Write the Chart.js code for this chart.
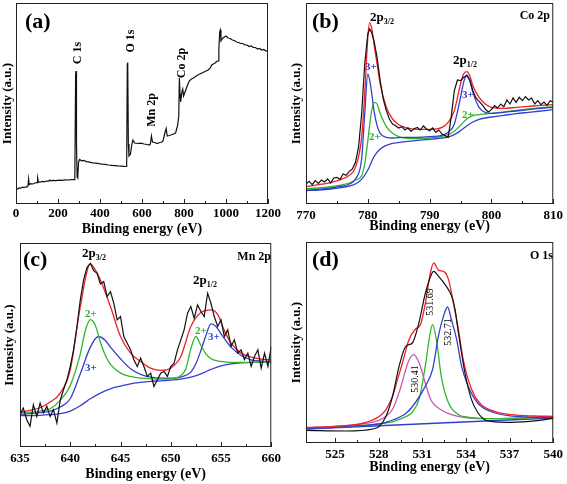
<!DOCTYPE html>
<html>
<head>
<meta charset="utf-8">
<script src="https://cdn.jsdelivr.net/npm/chart.js@4.4.0/dist/chart.umd.min.js"></script>
<style>
  body { margin: 0; background: #fff; width: 567px; height: 484px; position: relative; overflow: hidden; }
  canvas { position: absolute; }
</style>
</head>
<body>
<canvas id="cA" width="285" height="240" style="left:0;top:0"></canvas>
<canvas id="cB" width="282" height="240" style="left:285px;top:0"></canvas>
<canvas id="cC" width="285" height="244" style="left:0;top:240px"></canvas>
<canvas id="cD" width="282" height="244" style="left:285px;top:240px"></canvas>
<script>
const SERIF = '"Liberation Serif", "Times New Roman", serif';
const RED = '#f0202a', BLUE = '#3340cf', GREEN = '#2fb52f', PINK = '#c657b5', BLACK = '#111';

// ══════════════════════════════════════════════════════════════════
//  DATA — (a) survey
// ══════════════════════════════════════════════════════════════════
const surveyE = [0,8,15,22,30,38,45,52,57,60,63,70,80,90,100,103,107,115,125,135,145,155,160,165,175,190,205,220,235,250,265,280,284,286,288,291,294,298,303,312,322,335,350,365,380,395,410,425,440,455,470,485,500,515,527,530,532,535,538,545,552,557,565,580,595,610,625,635,640,645,650,660,672,685,695,700,710,715,720,730,745,760,770,775,778,781,784,790,794,798,805,815,825,835,845,855,870,885,900,915,925,932,940,948,955,962,966,970,973,976,985,1000,1010,1020,1030,1040,1050,1060,1070,1080,1090,1100,1110,1120,1130,1140,1150,1160,1170,1180,1190,1200];
const surveyI = [15.5,15,16.2,15.8,16.8,16.3,17.2,17,18,25,19.5,20.3,20,21,21.3,26,22,21.8,22.6,22.2,23,22.8,24,23.2,23.6,23.4,23.9,23.7,24.2,24,24.4,24.3,130,133,60,27,26,42,44.5,43.2,43.6,42.4,41.8,41.2,40.8,40.3,39.9,39.6,39,38.7,38.4,38.1,37.9,37.6,37.5,140,141.5,60,48,50,60,64,61,60.5,60.8,60,59.5,59,60,68,62,61.5,60.5,61.5,62,63,72,75.5,68,68.5,69.5,71,79,88,126,110,102,112,115,108,112,118,123,125,126,127.5,129.5,131,132.5,134,136,139,140,141,142.5,143,155,172,174,163,166,168,166,165.5,164,163.5,162,161.5,160.5,160.5,159,159,157.5,158,156.5,156.5,155,155.5,154,154.5,153,153.5];
const surveyTicks = [0,200,400,600,800,1000,1200];
const surveyMinor = [100,300,500,700,900,1100];

// ══════════════════════════════════════════════════════════════════
//  DATA — (b) Co 2p
// ══════════════════════════════════════════════════════════════════
const coRawE = [770,770.5,771,771.5,772,772.5,773,773.5,774,774.5,775,775.5,776,776.5,777,777.5,778,778.5,779,779.5,780,780.3,780.6,781,781.5,782,782.5,783,783.5,784,784.5,785,785.5,786,786.5,787,787.5,788,788.5,789,789.5,790,790.5,791,791.5,792,792.5,793,793.5,794,794.5,795,795.5,796,796.5,797,797.5,798,798.5,799,799.5,800,800.5,801,801.5,802,802.5,803,803.5,804,804.5,805,805.5,806,806.5,807,807.5,808,808.5,809,809.5,810];
const coRawI = [60,68,58,70,62,72,66,75,63,78,80,74,90,86,98,105,125,170,270,420,510,525,515,490,440,370,315,280,255,240,235,228,232,222,228,218,226,230,222,234,225,220,228,215,222,210,205,200,262,340,372,370,380,385,372,340,318,308,298,285,276,283,295,288,300,292,312,300,318,305,320,310,322,312,318,300,310,298,306,296,310,305];
const coFitE = [770,772,774,776,777,778,779,779.5,780,780.3,780.7,781,781.5,782,783,784,785,786,788,790,792,793,794,795,795.5,796,796.5,797,798,799,800,802,804,806,808,810];
const coFitI = [52,58,64,76,86,110,200,330,500,544,520,480,420,360,290,255,238,230,224,224,230,245,280,360,390,397,385,355,320,300,290,287,290,293,296,298];
const co3E = [770,772,774,776,777,778,779,779.5,780,780.5,781,781.5,782,783,784,786,788,790,792,793,794,795,795.5,796,796.5,797,798,799,800,802,804,806,808,810];
const co3I = [42,44,48,54,60,75,135,270,390,350,280,235,212,200,198,200,200,202,206,215,240,320,365,387,370,335,290,275,272,275,279,283,287,290];
const co2E = [770,772,774,776,777,778,779,779.5,780,780.5,781,781.5,782,783,784,785,786,788,790,792,793,794,795,796,797,798,799,800,802,804,806,808,810];
const co2I = [46,48,52,58,63,72,85,120,190,265,305,300,272,232,212,202,198,196,198,203,208,218,236,255,265,268,270,272,276,281,285,289,292];
const coBgE = [770,772,774,776,777,778,779,780,781,782,783,784,786,788,790,792,793,794,795,796,797,798,799,800,802,804,806,808,810];
const coBgI = [40,42,45,50,54,60,74,102,142,165,176,182,187,191,194,198,201,208,220,234,246,254,258,261,266,271,275,279,283];
const coTicks = [770,780,790,800,810];
const coMinor = [775,785,795,805];

// ══════════════════════════════════════════════════════════════════
//  DATA — (c) Mn 2p
// ══════════════════════════════════════════════════════════════════
const mnRawE = [635,635.33,635.67,636,636.33,636.67,637,637.33,637.67,638,638.33,638.67,639,639.33,639.67,640,640.33,640.67,641,641.33,641.67,642,642.33,642.67,643,643.33,643.67,644,644.33,644.67,645,645.33,645.67,646,646.33,646.67,647,647.33,647.67,648,648.33,648.67,649,649.33,649.67,650,650.33,650.67,651,651.33,651.67,652,652.33,652.67,653,653.33,653.67,654,654.33,654.67,655,655.33,655.67,656,656.33,656.67,657,657.33,657.67,658,658.33,658.67,659,659.33,659.67,660];
const mnRawI = [97,117,82,62,127,92,132,102,122,92,112,72,140,172,202,242,292,362,442,502,540,552,530,522,490,497,452,467,432,382,392,332,312,292,262,242,267,242,212,222,182,202,222,227,212,242,252,292,322,352,402,422,387,427,407,392,462,432,392,362,382,332,352,302,322,282,292,262,282,242,272,292,237,282,242,302];
const mnFitE = [635,636,637,638,639,640,641,642,642.5,643,644,645,646,647,648,649,650,651,652,653,654,654.7,655.3,656,657,658,659,660];
const mnFitI = [104,110,118,135,162,232,422,550,532,502,422,332,282,257,237,230,237,272,362,404,412,397,352,312,282,270,264,262];
const mn2E = [635,636,637,638,639,640,641,641.5,642,642.5,643,643.5,644,645,646,647,648,649,650,651,651.5,652,652.5,653,653.5,654,655,656,657,658,659,660];
const mn2I = [102,104,108,115,140,185,280,350,383,365,315,275,248,222,212,207,205,204,205,215,235,295,332,305,280,265,257,254,254,254,255,256];
const mn3E = [635,636,637,638,639,640,641,642,642.8,643.5,644,645,646,647,648,649,650,651,652,652.5,653,653.5,654,654.5,655,656,657,658,659,660];
const mn3I = [98,100,103,108,120,145,220,300,332,320,300,265,235,218,210,207,207,210,225,250,290,335,370,362,340,300,275,262,258,257];
const mnBgE = [635,636,637,638,639,640,641,642,643,644,645,646,647,648,649,650,651,652,653,654,655,656,657,658,659,660];
const mnBgI = [94,94,95,97,100,108,124,145,162,175,183,190,194,197,199,201,204,210,220,233,244,250,253,254,255,256];
const mnTicks = [635,640,645,650,655,660];
const mnMinor = [637.5,642.5,647.5,652.5,657.5];

// ══════════════════════════════════════════════════════════════════
//  DATA — (d) O 1s
// ══════════════════════════════════════════════════════════════════
const oRawE = [523,525.78,527.59,528.05,528.5,528.95,529.4,529.86,530.31,530.76,531.21,531.67,531.78,532.12,532.57,533.02,533.25,533.48,533.93,534.38,534.83,535.28,535.74,537.1,538.9,540];
const oRawI = [38,36,42,50,80,140,230,290,300,360,450,510,515,500,475,440,400,330,210,130,90,70,65,62,67,74];
const oFitE = [523,525,527,528.05,528.5,528.95,529.29,529.63,530.08,530.53,530.87,531.21,531.55,531.78,532.12,532.46,532.8,533.14,533.48,533.81,534.15,534.61,535.06,535.96,537.1,538.68,540];
const oFitI = [47,50,60,80,100,140,190,240,310,342,355,420,510,540,518,515,490,420,340,250,190,140,115,95,85,81,80];
const oPinkE = [523,525,527,528,528.5,529,529.5,530,530.4,530.8,531.2,531.6,532.1,533,534,535,536,538,540];
const oPinkI = [45,50,58,68,80,105,165,240,265,238,180,128,105,85,76,73,73,75,78];
const oGreenE = [523,525,527,528,529,529.5,530,530.3,530.8,531.2,531.5,531.7,532,532.3,532.8,533.5,534,535,536,538,540];
const oGreenI = [44,48,53,57,64,72,82,92,135,230,320,355,300,200,120,85,78,74,73,75,78];
const oBlueE = [523,525,527,528,528.7,529.9,530.5,531.2,531.7,532.1,532.45,532.73,533,533.36,533.7,534.15,534.8,536,538.2,540];
const oBlueI = [43,47,53,57,65,90,120,170,220,320,380,408,370,310,230,170,120,90,78,76];
const oBgE = [523,540];
const oBgI = [42,75];
const oTicks = [525,528,531,534,537,540];
const oMinor = [526.5,529.5,532.5,535.5,538.5];

// ══════════════════════════════════════════════════════════════════
//  HELPERS
// ══════════════════════════════════════════════════════════════════
function series(xs, ys, color, smooth, width = 1.3) {
  return {
    data: xs.map((x, i) => ({ x, y: ys[i] })),
    borderColor: color,
    borderWidth: width,
    pointRadius: 0,
    fill: false,
    tension: 0,
    cubicInterpolationMode: smooth ? 'monotone' : 'default'
  };
}

// frame, inward ticks, text notes
function decor(major, minor, notes) {
  return {
    id: 'decor',
    afterDraw(chart) {
      const { ctx, chartArea: a, scales: { x } } = chart;
      ctx.save();
      ctx.strokeStyle = '#222';
      ctx.lineWidth = 1;
      ctx.strokeRect(a.left + 0.5, a.top + 0.5, a.right - a.left - 1, a.bottom - a.top - 1);
      ctx.beginPath();
      major.forEach(v => { const p = Math.round(x.getPixelForValue(v)) + 0.5; ctx.moveTo(p, a.bottom); ctx.lineTo(p, a.bottom - 5); });
      minor.forEach(v => { const p = Math.round(x.getPixelForValue(v)) + 0.5; ctx.moveTo(p, a.bottom); ctx.lineTo(p, a.bottom - 3); });
      ctx.stroke();
      ctx.textBaseline = 'middle';
      notes.forEach(n => {
        ctx.save();
        ctx.fillStyle = n.color || '#000';
        ctx.font = `${n.weight || 'bold'} ${n.size}px ${SERIF}`;
        ctx.translate(n.x, n.y);
        if (n.rot) ctx.rotate(-Math.PI / 2);
        ctx.textAlign = n.align || 'center';
        ctx.fillText(n.text, 0, 0);
        if (n.sub) {
          const w = ctx.measureText(n.text).width;
          ctx.font = `bold ${n.subSize || 8}px ${SERIF}`;
          ctx.textAlign = 'left';
          ctx.fillText(n.sub, w, 4);
        }
        ctx.restore();
      });
      ctx.restore();
    }
  };
}

function makeChart(id, cfg) {
  const ctx = document.getElementById(id).getContext('2d');
  return new Chart(ctx, {
    type: 'line',
    data: { datasets: cfg.datasets },
    options: {
      responsive: false,
      animation: false,
      devicePixelRatio: 1,
      layout: { padding: cfg.pad },
      plugins: { legend: { display: false }, tooltip: { enabled: false } },
      scales: {
        x: {
          type: 'linear', min: cfg.xMin, max: cfg.xMax,
          afterBuildTicks: s => { s.ticks = cfg.ticks.map(v => ({ value: v })); },
          afterFit: s => { s.height = cfg.xHeight; },
          grid: { display: false, drawTicks: false },
          border: { display: false },
          ticks: {
            autoSkip: false, maxRotation: 0, padding: cfg.tickPad, color: '#000',
            font: { family: SERIF, size: 13, weight: 'bold' },
            callback: v => String(v)
          },
          title: {
            display: true, text: 'Binding energy (eV)', color: '#000',
            font: { family: SERIF, size: 14, weight: 'bold' },
            padding: { top: 0, bottom: cfg.xTitlePad }
          }
        },
        y: {
          min: 0, max: cfg.yMax,
          afterFit: s => { s.width = cfg.yWidth; },
          grid: { display: false, drawTicks: false },
          border: { display: false },
          ticks: { display: false },
          title: {
            display: true, text: 'Intensity (a.u.)', color: '#000',
            font: { family: SERIF, size: 13, weight: 'bold' },
            padding: { top: cfg.yTitlePad, bottom: 0 }
          }
        }
      }
    },
    plugins: [decor(cfg.ticks, cfg.minor, cfg.notes)]
  });
}

// ══════════════════════════════════════════════════════════════════
//  CHARTS
// ══════════════════════════════════════════════════════════════════
makeChart('cA', {
  datasets: [series(surveyE, surveyI, BLACK, false, 1.2)],
  xMin: 0, xMax: 1200, yMax: 201, ticks: surveyTicks, minor: surveyMinor,
  pad: { left: 0, top: 3, right: 17, bottom: 0 },
  yWidth: 16, xHeight: 36, tickPad: 2, xTitlePad: 2, yTitlePad: 0,
  notes: [
    { text: '(a)', x: 25, y: 22, size: 22, align: 'left' },
    { text: 'C 1s', x: 78, y: 53, size: 12, rot: true },
    { text: 'O 1s', x: 131, y: 41, size: 12, rot: true },
    { text: 'Mn 2p', x: 152, y: 110, size: 12, rot: true },
    { text: 'Co 2p', x: 182, y: 63, size: 12, rot: true }
  ]
});

makeChart('cB', {
  datasets: [
    series(coRawE, coRawI, BLACK, false, 1.2),
    series(coFitE, coFitI, RED, true),
    series(co3E, co3I, BLUE, true),
    series(co2E, co2I, GREEN, true),
    series(coBgE, coBgI, BLUE, true)
  ],
  xMin: 770, xMax: 810, yMax: 603, ticks: coTicks, minor: coMinor,
  pad: { left: 0, top: 3, right: 13, bottom: 0 },
  yWidth: 21, xHeight: 36, tickPad: 4, xTitlePad: 5, yTitlePad: 4,
  notes: [
    { text: '(b)', x: 27, y: 22, size: 22, align: 'left' },
    { text: '2p', sub: '3/2', x: 85, y: 18, size: 13, align: 'left' },
    { text: '3+', x: 86, y: 67, size: 11, color: BLUE },
    { text: '2+', x: 90, y: 137, size: 11, color: GREEN },
    { text: '2p', sub: '1/2', x: 168, y: 61, size: 13, align: 'left' },
    { text: '3+', x: 183, y: 95, size: 11, color: BLUE },
    { text: '2+', x: 183, y: 115, size: 11, color: GREEN },
    { text: 'Co 2p', x: 265, y: 16, size: 12, align: 'right' }
  ]
});

makeChart('cC', {
  datasets: [
    series(mnRawE, mnRawI, BLACK, false, 1.2),
    series(mnFitE, mnFitI, RED, true),
    series(mn2E, mn2I, GREEN, true),
    series(mn3E, mn3I, BLUE, true),
    series(mnBgE, mnBgI, BLUE, true)
  ],
  xMin: 635, xMax: 660, yMax: 613, ticks: mnTicks, minor: mnMinor,
  pad: { left: 0, top: 3, right: 12, bottom: 0 },
  yWidth: 20, xHeight: 37, tickPad: 4, xTitlePad: 1, yTitlePad: 2,
  notes: [
    { text: '(c)', x: 23, y: 20, size: 22, align: 'left' },
    { text: '2p', sub: '3/2', x: 82, y: 14, size: 13, align: 'left' },
    { text: 'Mn 2p', x: 271, y: 17, size: 12, align: 'right' },
    { text: '2+', x: 91, y: 74, size: 11, color: GREEN },
    { text: '3+', x: 91, y: 128, size: 11, color: BLUE },
    { text: '2p', sub: '1/2', x: 193, y: 41, size: 13, align: 'left' },
    { text: '2+', x: 201, y: 91, size: 11, color: GREEN },
    { text: '3+', x: 214, y: 97, size: 11, color: BLUE }
  ]
});

makeChart('cD', {
  datasets: [
    series(oRawE, oRawI, BLACK, true, 1.2),
    series(oFitE, oFitI, RED, true),
    series(oBlueE, oBlueI, BLUE, true),
    series(oGreenE, oGreenI, GREEN, true),
    series(oPinkE, oPinkI, PINK, true),
    series(oBgE, oBgI, BLUE, false)
  ],
  xMin: 523, xMax: 540, yMax: 603, ticks: oTicks, minor: oMinor,
  pad: { left: 0, top: 2, right: 13, bottom: 0 },
  yWidth: 21, xHeight: 41, tickPad: 4, xTitlePad: 8, yTitlePad: 4,
  notes: [
    { text: '(d)', x: 27, y: 20, size: 22, align: 'left' },
    { text: 'O 1s', x: 268, y: 16, size: 12, align: 'right' },
    { text: '530.41', x: 130, y: 139, size: 10, weight: 'normal', rot: true },
    { text: '531.69', x: 145, y: 62, size: 10, weight: 'normal', rot: true },
    { text: '532.71', x: 163, y: 92, size: 10, weight: 'normal', rot: true }
  ]
});
</script>
</body>
</html>
